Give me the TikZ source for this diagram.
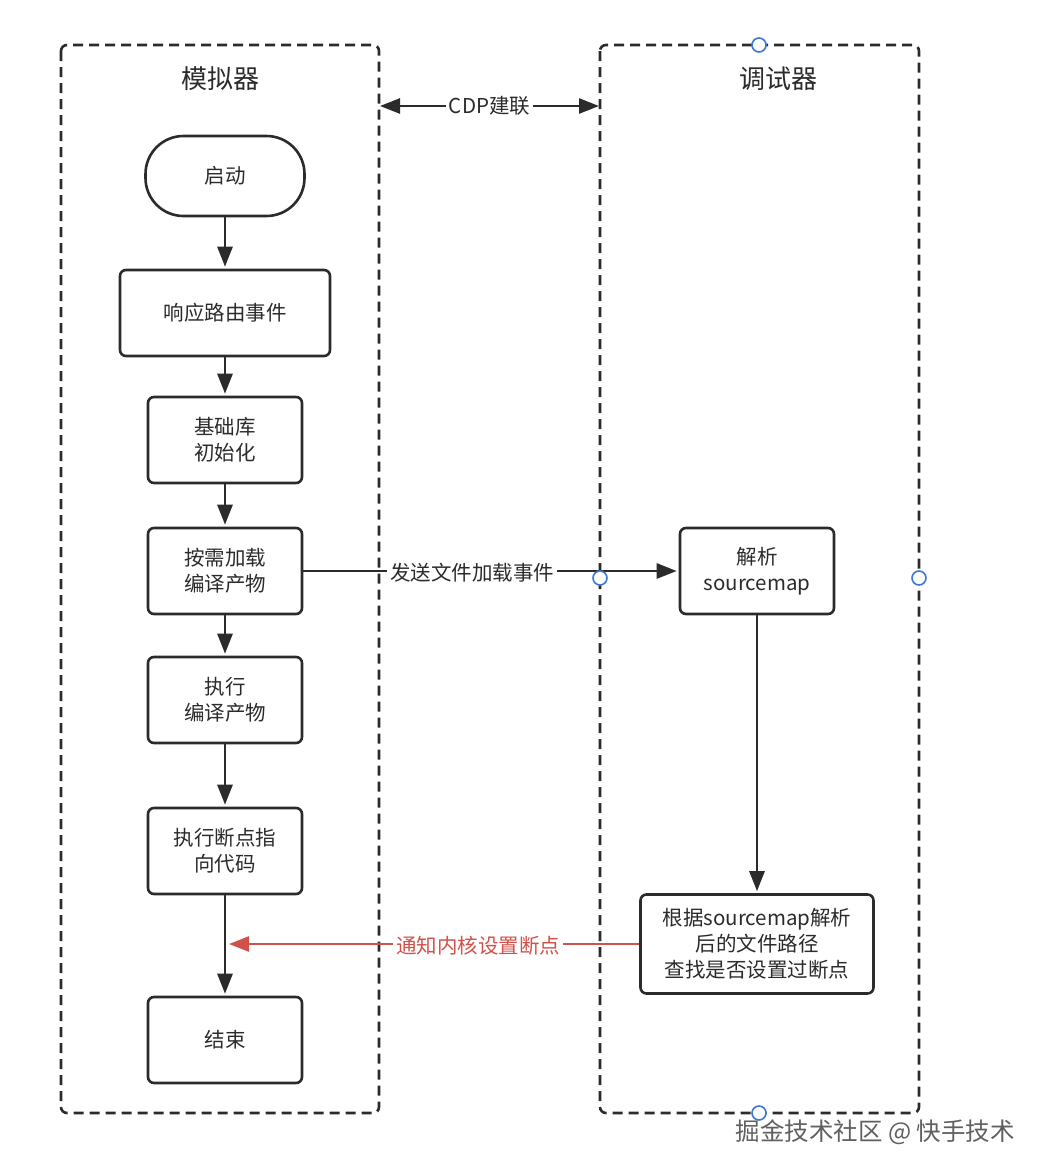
\documentclass[tikz,border=0pt]{standalone}
\usepackage{fontspec}
\setmainfont{Noto Sans CJK SC}
\usetikzlibrary{arrows.meta}
\definecolor{ink}{HTML}{2B2B2B}
\definecolor{alert}{HTML}{D0524A}
\definecolor{handle}{HTML}{3A78D8}
\tikzset{
  lane/.style={draw=ink, line width=2.6pt, dash pattern=on 10pt off 6pt, rounded corners=6pt},
  stepbox/.style={draw=ink, line width=2.6pt, rounded corners=6pt, minimum width=154pt,
    minimum height=86pt, align=center, font=\fontsize{20.5}{26}\selectfont, text=ink},
  tip/.tip={Triangle[length=20pt,width=15pt]},
  flow/.style={draw=ink, line width=2.6pt, -tip, shorten >=2pt},
  tag/.style={fill=white, inner sep=3pt, font=\fontsize{20.5}{24}\selectfont, text=ink},
  grip/.style={circle, draw=handle, fill=white, line width=1.6pt, minimum size=14pt, inner sep=0pt}
}
\begin{document}
\begin{tikzpicture}[x=1pt,y=-1pt]
\useasboundingbox[fill=white] (0,0) rectangle (1050,1176);
% Lanes
\draw[lane] (61,45) rectangle (379,1113);
\draw[lane] (600,45) rectangle (919,1113);
\node[font=\fontsize{26}{30}\selectfont, text=ink] (simT) at (220,79) {模拟器};
\node[font=\fontsize{26}{30}\selectfont, text=ink] (dbgT) at (778,79) {调试器};
\coordinate (simE) at (380,106);
\coordinate (dbgE) at (599,106);
\draw[draw=ink, line width=2.6pt, tip-tip] (simE) -- node[tag] {CDP建联} (dbgE);
% Simulator steps
\node[stepbox, minimum width=159pt, minimum height=80pt, rounded corners=38pt] (start) at (225,176) {启动};
\node[stepbox, minimum width=210pt] (route) at (225,313) {响应路由事件};
\node[stepbox] (base) at (225,440) {基础库\\初始化};
\node[stepbox] (load) at (225,571) {按需加载\\编译产物};
\node[stepbox] (run) at (225,700) {执行\\编译产物};
\node[stepbox] (brk) at (225,851) {执行断点指\\向代码};
\node[stepbox] (stop) at (225,1040) {结束};
\draw[flow] (start) -- (route);
\draw[flow] (route) -- (base);
\draw[flow] (base) -- (load);
\draw[flow] (load) -- (run);
\draw[flow] (run) -- (brk);
\draw[flow] (brk) -- (stop);
% Debugger steps
\node[stepbox] (parse) at (757,571) {解析\\sourcemap};
\node[stepbox, minimum width=233pt, minimum height=99pt] (find) at (757,944) {根据sourcemap解析\\后的文件路径\\查找是否设置过断点};
\draw[flow] (load) -- node[tag, pos=0.45, yshift=-2pt] {发送文件加载事件} (parse);
\draw[flow] (parse) -- (find);
\coordinate (hit) at (227,944);
\draw[flow, draw=alert, fill=alert] (find) -- node[tag, text=alert, pos=0.39, yshift=-2pt] {通知内核设置断点} (hit);
% Handles
\node[grip] (g1) at (759,45) {};
\node[grip] (g2) at (600,578) {};
\node[grip] (g3) at (919,578) {};
\node[grip] (g4) at (759,1113) {};
\node[text=gray!75!black, font=\fontsize{24.5}{28}\selectfont, anchor=west] (mark) at (732,1132) {掘金技术社区 @ 快手技术};
\end{tikzpicture}
\end{document}
